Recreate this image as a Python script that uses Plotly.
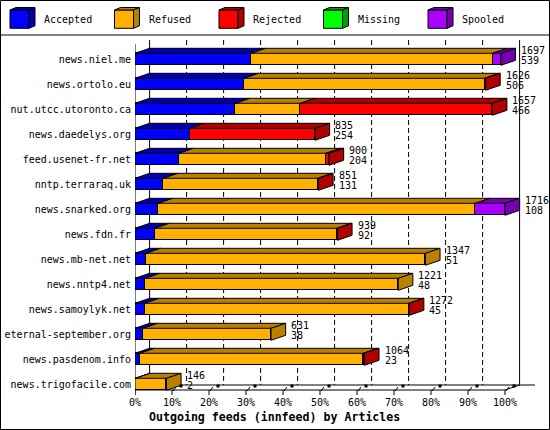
import plotly.graph_objects as go

# --- DATOS ---
hosts = [
    "news.niel.me", "news.ortolo.eu", "nut.utcc.utoronto.ca", "news.daedelys.org",
    "feed.usenet-fr.net", "nntp.terraraq.uk", "news.snarked.org", "news.fdn.fr",
    "news.mb-net.net", "news.nntp4.net", "news.samoylyk.net", "eternal-september.org",
    "news.pasdenom.info", "news.trigofacile.com",
]
totals = [1697, 1626, 1657, 835, 900, 851, 1716, 939, 1347, 1221, 1272, 631, 1064, 146]
accepted = [539, 506, 466, 254, 204, 131, 108, 92, 51, 48, 45, 38, 23, 2]
refused = [1120, 1115, 301, 0, 681, 717, 1470, 844, 1296, 1173, 1224, 593, 1035, 144]
rejected = [0, 5, 890, 581, 15, 3, 0, 3, 0, 0, 3, 0, 6, 0]
missing = [0, 0, 0, 0, 0, 0, 0, 0, 0, 0, 0, 0, 0, 0]
spooled = [38, 0, 0, 0, 0, 0, 138, 0, 0, 0, 0, 0, 0, 0]

series_names = ["Accepted", "Refused", "Rejected", "Missing", "Spooled"]
series_values = [accepted, refused, rejected, missing, spooled]
x_ticks = [0, 10, 20, 30, 40, 50, 60, 70, 80, 90, 100]
x_tick_labels = [f"{t}%" for t in x_ticks]
x_title = "Outgoing feeds (innfeed) by Articles"

# --- ESTILO ---
FONT = "DejaVu Sans Mono"
FRONT = {"Accepted": "#0000ff", "Refused": "#ffb000", "Rejected": "#ff0000",
         "Missing": "#00ff00", "Spooled": "#aa00ff"}
SHADE = {"Accepted": "#0000b0", "Refused": "#b88000", "Rejected": "#b00000",
         "Missing": "#00a000", "Spooled": "#7400b0"}

W, H = 550, 430
PLOT_L, PLOT_R, PLOT_T, PLOT_B = 135, 535, 40, 395
PX_PER_PCT = 3.70
ROW0, PITCH = 59.3, 25.0
X_RANGE = [0, (PLOT_R - PLOT_L) / PX_PER_PCT]
Y_RANGE = [(PLOT_B - ROW0) / PITCH, (PLOT_T - ROW0) / PITCH]
DX = 14.6 / PX_PER_PCT       # profundidad 3D en unidades de x
DY = 5.0 / PITCH             # profundidad 3D en unidades de fila
HALF = 6.0 / PITCH


def row_y(px):
    return (px - ROW0) / PITCH


def ux(px):
    return px / PX_PER_PCT


def paper_x(px):
    return (px - PLOT_L) / (PLOT_R - PLOT_L)


def paper_y(px):
    return (PLOT_B - px) / (PLOT_B - PLOT_T)


vmax = max(totals)
rows = list(range(len(hosts)))

fig = go.Figure()

# caras frontales: barras apiladas
for name, vals in zip(series_names, series_values):
    fig.add_trace(go.Bar(
        y=rows, x=[v / vmax * 100 for v in vals], orientation="h",
        width=2 * HALF, marker=dict(color=FRONT[name], line=dict(color="black", width=1)),
        showlegend=False, hoverinfo="skip",
    ))

# caras superiores y laterales (3D)
tops = {n: ([], []) for n in series_names}
sides = {n: ([], []) for n in series_names}
for i in rows:
    left = 0.0
    last = None
    for name, vals in zip(series_names, series_values):
        w = vals[i] / vmax * 100
        if w <= 0:
            continue
        right = left + w
        yt = i - HALF
        xs, ys = tops[name]
        xs += [left, right, right + DX, left + DX, left, None]
        ys += [yt, yt, yt - DY, yt - DY, yt, None]
        left = right
        last = name
    if last:
        xs, ys = sides[last]
        xs += [left, left + DX, left + DX, left, left, None]
        ys += [i - HALF, i - HALF - DY, i + HALF - DY, i + HALF, i - HALF, None]

for faces in (tops, sides):
    for name in series_names:
        xs, ys = faces[name]
        if xs:
            fig.add_trace(go.Scatter(
                x=xs, y=ys, mode="lines", fill="toself", fillcolor=SHADE[name],
                line=dict(color="black", width=1), showlegend=False, hoverinfo="skip",
            ))

# etiquetas a la derecha: total y aceptados
annotations = []
for i in rows:
    xe = totals[i] / vmax * 100 + DX
    for txt, shift in ((totals[i], 9.3), (accepted[i], -1.4)):
        annotations.append(dict(
            x=xe, y=i, xref="x", yref="y", text=str(txt), showarrow=False,
            xanchor="left", yanchor="middle", xshift=3.5, yshift=shift,
            font=dict(family=FONT, size=10, color="black"),
        ))

# paredes del fondo y rejilla discontinua
shapes = []
y_back_top, y_back_bot = Y_RANGE[1], row_y(385)
for t in x_ticks[1:-1]:
    shapes.append(dict(type="line", xref="x", yref="y", x0=t + DX, x1=t + DX,
                       y0=y_back_top, y1=y_back_bot, layer="below",
                       line=dict(color="black", width=1, dash="5px,3px")))
for xb in (DX, 100 + DX):
    shapes.append(dict(type="line", xref="x", yref="y", x0=xb, x1=xb,
                       y0=y_back_top, y1=y_back_bot, layer="below",
                       line=dict(color="black", width=1)))
shapes.append(dict(type="line", xref="x", yref="y", x0=DX, x1=X_RANGE[1],
                   y0=y_back_bot, y1=y_back_bot, layer="below",
                   line=dict(color="black", width=1)))

# ejes frontales
y_front = row_y(390)
fig.add_trace(go.Scatter(
    x=[0, 0, None, ux(-16), 0, 100, 100 + DX], y=[row_y(44), row_y(395), None, row_y(394.3), y_front, y_front, y_back_bot],
    mode="lines", line=dict(color="black", width=1), cliponaxis=False,
    showlegend=False, hoverinfo="skip",
))
tx, ty = [], []
for t in x_ticks:
    tx += [t, t, None]
    ty += [y_front, row_y(395), None]
    if t > 0:
        tx += [t + ux(1), t + ux(4), None]
        ty += [row_y(391), row_y(387), None]
fig.add_trace(go.Scatter(x=tx, y=ty, mode="lines", line=dict(color="black", width=1),
                         cliponaxis=False, showlegend=False, hoverinfo="skip"))
fig.add_trace(go.Scatter(
    x=[t + ux(9) for t in x_ticks[1:]], y=[row_y(386)] * (len(x_ticks) - 1), mode="markers",
    marker=dict(symbol="square", size=3, color="black"), cliponaxis=False,
    showlegend=False, hoverinfo="skip",
))

# leyenda con cubos 3D
for j, name in enumerate(series_names):
    x0 = 10 + 104.5 * j
    fx = [paper_x(x0), paper_x(x0 + 19)]
    fy = [paper_y(10), paper_y(28.3)]
    shapes.append(dict(type="rect", xref="paper", yref="paper", x0=fx[0], x1=fx[1],
                       y0=fy[1], y1=fy[0], fillcolor=FRONT[name],
                       line=dict(color="black", width=1)))
    top = (f"M{paper_x(x0)},{paper_y(10)} L{paper_x(x0 + 19)},{paper_y(10)} "
           f"L{paper_x(x0 + 25)},{paper_y(7.5)} L{paper_x(x0 + 6)},{paper_y(7.5)} Z")
    side = (f"M{paper_x(x0 + 19)},{paper_y(10)} L{paper_x(x0 + 25)},{paper_y(7.5)} "
            f"L{paper_x(x0 + 25)},{paper_y(25.8)} L{paper_x(x0 + 19)},{paper_y(28.3)} Z")
    for p in (top, side):
        shapes.append(dict(type="path", xref="paper", yref="paper", path=p,
                           fillcolor=SHADE[name], line=dict(color="black", width=1)))
    annotations.append(dict(x=paper_x(x0 + 32), y=paper_y(19.5), xref="paper", yref="paper",
                            text=name, showarrow=False, xanchor="left", yanchor="middle",
                            font=dict(family=FONT, size=10, color="black")))

# separador de leyenda y marco
shapes.append(dict(type="line", xref="paper", yref="paper", x0=paper_x(0), x1=paper_x(W),
                   y0=paper_y(35), y1=paper_y(35), line=dict(color="black", width=1)))
shapes.append(dict(type="rect", xref="paper", yref="paper", x0=paper_x(0.5), x1=paper_x(W - 0.5),
                   y0=paper_y(H - 0.5), y1=paper_y(0.5), line=dict(color="black", width=1)))

annotations.append(dict(x=paper_x(274), y=paper_y(416.7), xref="paper", yref="paper",
                        text=f"<b>{x_title}</b>", showarrow=False, xanchor="center",
                        yanchor="middle", font=dict(family=FONT, size=11.6, color="black")))

fig.update_layout(
    width=W, height=H, barmode="stack", bargap=0,
    margin=dict(l=PLOT_L, r=W - PLOT_R, t=PLOT_T, b=H - PLOT_B, pad=0, autoexpand=False),
    plot_bgcolor="white", paper_bgcolor="white",
    shapes=shapes, annotations=annotations, showlegend=False, hovermode=False,
    xaxis=dict(range=X_RANGE, showgrid=False, zeroline=False, showline=False,
               automargin=False, tickvals=x_ticks, ticktext=x_tick_labels, ticks="",
               tickfont=dict(family=FONT, size=10, color="black")),
    yaxis=dict(range=Y_RANGE, showgrid=False, zeroline=False, showline=False,
               automargin=False, tickvals=rows, ticktext=hosts, ticks="", ticklabelstandoff=3,
               tickfont=dict(family=FONT, size=10, color="black")),
)

# quitar el margen del <body> para que la figura ocupe la ventana
fig.write_html("out.html", config={"displayModeBar": False},
               post_script="document.body.style.margin='0';document.body.style.overflow='hidden';")
